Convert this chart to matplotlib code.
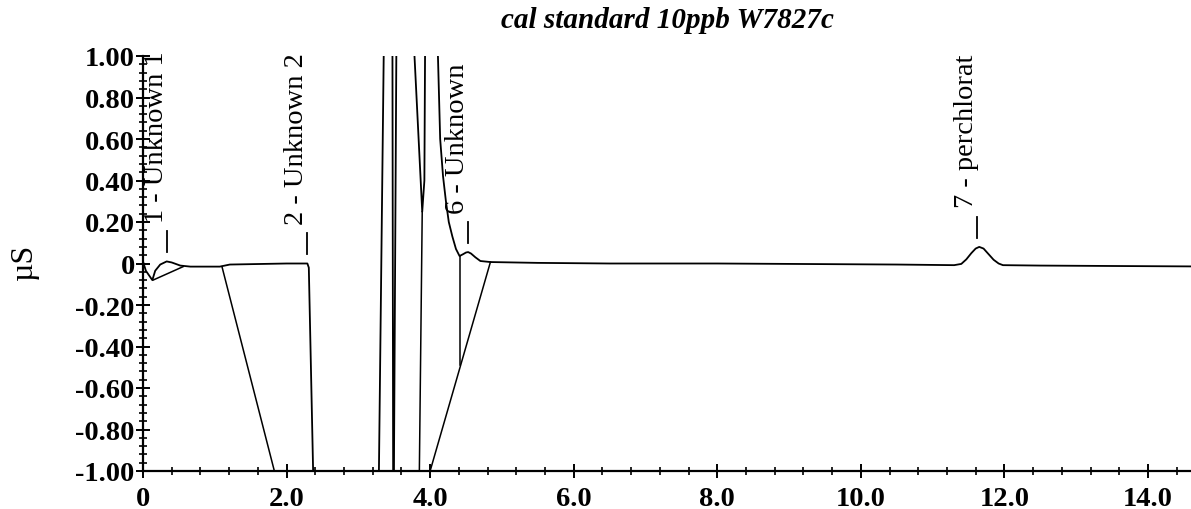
import matplotlib
matplotlib.use("Agg")
import matplotlib.pyplot as plt
from matplotlib.ticker import MultipleLocator, FixedLocator

# ---------------- data ----------------
title_text = "cal standard 10ppb W7827c"
y_label = "µS"

# trace (retention time in min, signal in µS); values beyond ±1 are off-scale
trace_t = [0.00, 0.04, 0.13, 0.17, 0.24, 0.33, 0.40, 0.52, 0.66, 1.07, 1.21, 2.00,
           2.29, 2.31, 2.37, 2.38, 3.28, 3.285, 3.355, 3.36, 3.47, 3.475, 3.485, 3.49,
           3.495, 3.53, 3.535, 3.77, 3.775, 3.89, 3.92, 3.93, 3.935, 4.10, 4.105,
           4.14, 4.18, 4.22, 4.26, 4.31, 4.36, 4.41, 4.46, 4.50, 4.53, 4.57, 4.63,
           4.70, 4.84, 5.50, 6.50, 8.00, 9.50, 10.50, 11.30, 11.40, 11.47, 11.54,
           11.60, 11.65, 11.71, 11.78, 11.85, 11.92, 11.98, 12.50, 13.50, 14.60]
trace_y = [0.010, -0.035, -0.080, -0.035, -0.005, 0.010, 0.005, -0.010, -0.015, -0.015, -0.005, 0.000,
           0.000, -0.020, -1.000, -1.200, -1.200, -1.050, 1.050, 1.200, 1.200, 1.050, -1.050, -1.200,
           -1.050, 1.050, 1.200, 1.200, 1.050, 0.250, 0.400, 1.050, 1.200, 1.200, 1.050,
           0.600, 0.420, 0.300, 0.200, 0.130, 0.070, 0.036, 0.045, 0.053, 0.055, 0.048, 0.030,
           0.012, 0.007, 0.003, 0.000, 0.000, -0.003, -0.005, -0.008, -0.002, 0.020, 0.050,
           0.072, 0.080, 0.072, 0.045, 0.018, 0.000, -0.008, -0.010, -0.012, -0.014]

# integration baselines / drop lines (start and end points)
base_t0 = [0.14, 1.10, 3.89, 4.00, 4.41]
base_y0 = [-0.080, -0.015, 0.250, -1.000, 0.036]
base_t1 = [0.56, 1.83, 3.85, 4.84, 4.41]
base_y1 = [-0.015, -1.000, -1.000, 0.007, -0.490]

# peak labels
peak_names = ["1 - Unknown 1", "2 - Unknown 2", "6 - Unknown", "7 - perchlorat"]
peak_times = [0.33, 2.29, 4.53, 11.62]
peak_tops = [0.010, 0.000, 0.055, 0.080]

x_ticks = [0, 2, 4, 6, 8, 10, 12, 14]
x_tick_labels = ["0", "2.0", "4.0", "6.0", "8.0", "10.0", "12.0", "14.0"]
y_ticks = [-1.0, -0.8, -0.6, -0.4, -0.2, 0.0, 0.2, 0.4, 0.6, 0.8, 1.0]
y_tick_labels = ["-1.00", "-0.80", "-0.60", "-0.40", "-0.20", "0",
                 "0.20", "0.40", "0.60", "0.80", "1.00"]

# ---------------- figure ----------------
W, H, DPI = 1191, 510, 100
fig = plt.figure(figsize=(W / DPI, H / DPI), dpi=DPI)
serif = ["Liberation Serif", "DejaVu Serif"]

ax = fig.add_axes([143 / W, (H - 472) / H, (W - 143) / W, (472 - 57) / H])
ax.set_xlim(0, 14.6)
ax.set_ylim(-1.0, 1.0)

ax.plot(trace_t, trace_y, color="black", lw=1.3, solid_joinstyle="round")
for t0, y0, t1, y1 in zip(base_t0, base_y0, base_t1, base_y1):
    ax.plot([t0, t1], [y0, y1], color="black", lw=1.1)

# peak markers and labels
px = 1.0 / DPI * 72  # points per pixel
for name, t, top in zip(peak_names, peak_times, peak_tops):
    ax.plot([t, t], [top + 0.045, top + 0.145], color="black", lw=1.3)
    ax.annotate(name, xy=(t, top + 0.19), xytext=(-4 * px, 0),
                textcoords="offset points", rotation=90, rotation_mode="anchor",
                ha="left", va="baseline", fontsize=20.5, family=serif,
                annotation_clip=False)

for s in ["top", "right"]:
    ax.spines[s].set_visible(False)
for s in ["left", "bottom"]:
    ax.spines[s].set_linewidth(1.6)

ax.xaxis.set_major_locator(FixedLocator(x_ticks))
ax.set_xticklabels(x_tick_labels)
ax.yaxis.set_major_locator(FixedLocator(y_ticks))
ax.set_yticklabels(y_tick_labels)
ax.xaxis.set_minor_locator(MultipleLocator(0.4))
ax.yaxis.set_minor_locator(MultipleLocator(0.04))

ax.tick_params(which="major", direction="inout", length=10, width=1.4)
ax.tick_params(which="minor", direction="inout", length=6, width=1.2)
ax.tick_params(axis="x", which="major", pad=6)
ax.tick_params(axis="y", which="major", pad=1)
for lab in ax.get_xticklabels() + ax.get_yticklabels():
    lab.set_family(serif)
    lab.set_fontsize(20.5)
    lab.set_fontweight("bold")

fig.text(24 / W, 1 - 262 / H, y_label, rotation=90, ha="center", va="center",
         fontsize=23, family=serif)
fig.text(667 / W, 1 - 20 / H, title_text, ha="center", va="center",
         fontsize=21, family=serif, style="italic", fontweight="bold")

fig.savefig("out.png", dpi=DPI)
